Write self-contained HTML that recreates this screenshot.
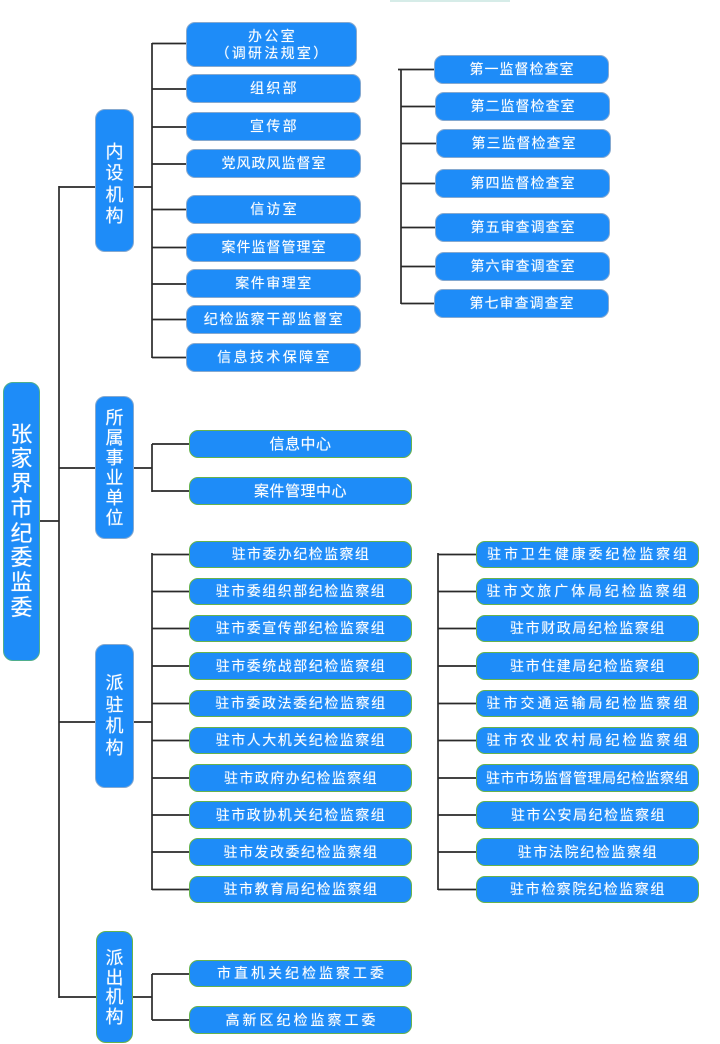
<!DOCTYPE html>
<html>
<head>
<meta charset="utf-8">
<style>
  html,body{margin:0;padding:0;background:#fff;}
  body{width:720px;height:1044px;position:relative;overflow:hidden;
    font-family:"Liberation Sans","Noto Sans CJK SC","WenQuanYi Zen Hei",sans-serif;}
  .b{position:absolute;box-sizing:border-box;background:#1e8cf8;color:#fff;
    border-radius:9px;display:flex;align-items:center;justify-content:center;
    font-size:14px;white-space:nowrap;line-height:17px;text-align:center;
    text-shadow:0 0 1px rgba(255,255,255,0.5);}
  .g{border:1.5px solid #66b24e;}
  .s{border:1.5px solid #86a9cf;}
  .v{flex-direction:column;font-size:18px;line-height:21.5px;border-radius:10px;}
  svg{position:absolute;left:0;top:0;}
</style>
</head>
<body>
<div style="position:absolute;left:390px;top:0;width:120px;height:2px;background:#d6ece8;"></div>

<svg width="720" height="1044">
  <g stroke="#2a2a2a" stroke-width="1.7" fill="none">
    <!-- main -->
    <line x1="59" y1="186" x2="59" y2="998"/>
    <line x1="40" y1="521" x2="59" y2="521"/>
    <line x1="59" y1="187" x2="95" y2="187"/>
    <line x1="59" y1="468" x2="95" y2="468"/>
    <line x1="59" y1="722" x2="95" y2="722"/>
    <line x1="59" y1="997" x2="96" y2="997"/>
    <!-- 内设 -->
    <line x1="134" y1="187" x2="152" y2="187"/>
    <line x1="152" y1="43" x2="152" y2="358"/>
    <line x1="152" y1="43.5" x2="186" y2="43.5"/>
    <line x1="152" y1="89" x2="186" y2="89"/>
    <line x1="152" y1="127" x2="186" y2="127"/>
    <line x1="152" y1="164" x2="186" y2="164"/>
    <line x1="152" y1="209.5" x2="186" y2="209.5"/>
    <line x1="152" y1="247.5" x2="186" y2="247.5"/>
    <line x1="152" y1="284" x2="186" y2="284"/>
    <line x1="152" y1="319.5" x2="186" y2="319.5"/>
    <line x1="152" y1="357.5" x2="186" y2="357.5"/>
    <!-- right top bracket -->
    <line x1="401" y1="69" x2="401" y2="304"/>
    <line x1="398" y1="69.5" x2="434" y2="69.5"/>
    <line x1="401" y1="106.5" x2="435" y2="106.5"/>
    <line x1="401" y1="143.5" x2="436" y2="143.5"/>
    <line x1="401" y1="183.5" x2="435" y2="183.5"/>
    <line x1="401" y1="227.5" x2="435" y2="227.5"/>
    <line x1="401" y1="266.5" x2="435" y2="266.5"/>
    <line x1="401" y1="303.5" x2="434" y2="303.5"/>
    <!-- 所属 -->
    <line x1="134" y1="468" x2="152" y2="468"/>
    <line x1="152" y1="444" x2="152" y2="492"/>
    <line x1="152" y1="444" x2="189" y2="444"/>
    <line x1="152" y1="491" x2="189" y2="491"/>
    <!-- 派驻 left -->
    <line x1="134" y1="722" x2="152" y2="722"/>
    <line x1="152" y1="553" x2="152" y2="890"/>
    <line x1="152" y1="554.5" x2="189" y2="554.5"/>
    <line x1="152" y1="591.5" x2="189" y2="591.5"/>
    <line x1="152" y1="628.5" x2="189" y2="628.5"/>
    <line x1="152" y1="666" x2="189" y2="666"/>
    <line x1="152" y1="703.5" x2="189" y2="703.5"/>
    <line x1="152" y1="740.5" x2="189" y2="740.5"/>
    <line x1="152" y1="778" x2="189" y2="778"/>
    <line x1="152" y1="815" x2="189" y2="815"/>
    <line x1="152" y1="852" x2="189" y2="852"/>
    <line x1="152" y1="889.5" x2="189" y2="889.5"/>
    <!-- 派驻 right -->
    <line x1="438" y1="553" x2="438" y2="890"/>
    <line x1="438" y1="554.5" x2="476" y2="554.5"/>
    <line x1="438" y1="591.5" x2="476" y2="591.5"/>
    <line x1="438" y1="628.5" x2="476" y2="628.5"/>
    <line x1="438" y1="666" x2="476" y2="666"/>
    <line x1="438" y1="703.5" x2="476" y2="703.5"/>
    <line x1="438" y1="740.5" x2="476" y2="740.5"/>
    <line x1="438" y1="778" x2="476" y2="778"/>
    <line x1="438" y1="815" x2="476" y2="815"/>
    <line x1="438" y1="852" x2="476" y2="852"/>
    <line x1="438" y1="889.5" x2="476" y2="889.5"/>
    <!-- 派出 -->
    <line x1="133" y1="997" x2="152" y2="997"/>
    <line x1="152" y1="974" x2="152" y2="1020"/>
    <line x1="152" y1="974" x2="189" y2="974"/>
    <line x1="152" y1="1020" x2="189" y2="1020"/>
  </g>
</svg>

<!-- main -->
<div class="b g v" style="left:3px;top:382px;width:37px;height:279px;font-size:22px;line-height:24.7px;border-color:#4fae8c;">张<br>家<br>界<br>市<br>纪<br>委<br>监<br>委</div>

<!-- categories -->
<div class="b s v" style="left:95px;top:109px;width:39px;height:143px;padding-top:8px;">内<br>设<br>机<br>构</div>
<div class="b s v" style="left:95px;top:396px;width:39px;height:143px;line-height:20px;">所<br>属<br>事<br>业<br>单<br>位</div>
<div class="b s v" style="left:95px;top:644px;width:39px;height:144px;padding-top:0px;">派<br>驻<br>机<br>构</div>
<div class="b g v" style="left:96px;top:931px;width:37px;height:112px;line-height:19.5px;padding-top:2px;">派<br>出<br>机<br>构</div>

<!-- 内设 items -->
<div class="b s" style="left:186px;top:22px;width:171px;height:45px;flex-direction:column;letter-spacing:2.3px;padding-left:2px;line-height:17px;"><span>办公室</span><span>（调研法规室）</span></div>
<div class="b s" style="left:186px;top:74px;width:175px;height:29px;letter-spacing:2.3px;padding-left:2px;">组织部</div>
<div class="b s" style="left:186px;top:112px;width:175px;height:29px;letter-spacing:2.3px;padding-left:2px;">宣传部</div>
<div class="b s" style="left:186px;top:149px;width:175px;height:29px;letter-spacing:1px;padding-left:1px;">党风政风监督室</div>
<div class="b s" style="left:186px;top:195px;width:175px;height:29px;letter-spacing:2.2px;padding-left:2px;">信访室</div>
<div class="b s" style="left:186px;top:233px;width:175px;height:29px;letter-spacing:1px;padding-left:1px;">案件监督管理室</div>
<div class="b s" style="left:186px;top:269px;width:175px;height:29px;letter-spacing:1.5px;padding-left:1px;">案件审理室</div>
<div class="b s" style="left:186px;top:305px;width:175px;height:29px;letter-spacing:1.6px;padding-left:1px;">纪检监察干部监督室</div>
<div class="b s" style="left:186px;top:343px;width:175px;height:29px;letter-spacing:2.4px;padding-left:2px;">信息技术保障室</div>

<!-- right top -->
<div class="b s" style="left:434px;top:55px;width:175px;height:29px;letter-spacing:1px;padding-left:1px;">第一监督检查室</div>
<div class="b s" style="left:435px;top:92px;width:175px;height:29px;letter-spacing:1px;padding-left:1px;">第二监督检查室</div>
<div class="b s" style="left:436px;top:129px;width:175px;height:29px;letter-spacing:1px;padding-left:1px;">第三监督检查室</div>
<div class="b s" style="left:435px;top:169px;width:175px;height:29px;letter-spacing:1px;padding-left:1px;">第四监督检查室</div>
<div class="b s" style="left:435px;top:213px;width:175px;height:29px;letter-spacing:1px;padding-left:1px;">第五审查调查室</div>
<div class="b s" style="left:435px;top:252px;width:175px;height:29px;letter-spacing:1px;padding-left:1px;">第六审查调查室</div>
<div class="b s" style="left:434px;top:289px;width:175px;height:29px;letter-spacing:1px;padding-left:1px;">第七审查调查室</div>

<!-- 所属 -->
<div class="b g" style="left:189px;top:430px;width:223px;height:28px;font-size:15px;letter-spacing:0.5px;">信息中心</div>
<div class="b g" style="left:189px;top:477px;width:223px;height:28px;font-size:15px;letter-spacing:0.5px;">案件管理中心</div>

<!-- 派驻 left -->
<div class="b g" style="left:189px;top:541px;width:223px;height:27px;letter-spacing:1.4px;padding-left:1px;">驻市委办纪检监察组</div>
<div class="b g" style="left:189px;top:578px;width:223px;height:27px;letter-spacing:1.5px;padding-left:1px;">驻市委组织部纪检监察组</div>
<div class="b g" style="left:189px;top:615px;width:223px;height:27px;letter-spacing:1.5px;padding-left:1px;">驻市委宣传部纪检监察组</div>
<div class="b g" style="left:189px;top:652px;width:223px;height:28px;letter-spacing:1.5px;padding-left:1px;">驻市委统战部纪检监察组</div>
<div class="b g" style="left:189px;top:690px;width:223px;height:27px;letter-spacing:1.6px;padding-left:1px;">驻市委政法委纪检监察组</div>
<div class="b g" style="left:189px;top:727px;width:223px;height:27px;letter-spacing:1.5px;padding-left:1px;">驻市人大机关纪检监察组</div>
<div class="b g" style="left:189px;top:764px;width:223px;height:28px;letter-spacing:1.4px;padding-left:1px;">驻市政府办纪检监察组</div>
<div class="b g" style="left:189px;top:801px;width:223px;height:28px;letter-spacing:1.5px;padding-left:1px;">驻市政协机关纪检监察组</div>
<div class="b g" style="left:189px;top:838px;width:223px;height:28px;letter-spacing:1.5px;padding-left:1px;">驻市发改委纪检监察组</div>
<div class="b g" style="left:189px;top:876px;width:223px;height:27px;letter-spacing:1.5px;padding-left:1px;">驻市教育局纪检监察组</div>

<!-- 派驻 right -->
<div class="b g" style="left:476px;top:541px;width:223px;height:27px;letter-spacing:2.9px;padding-left:2px;">驻市卫生健康委纪检监察组</div>
<div class="b g" style="left:476px;top:578px;width:223px;height:27px;letter-spacing:2.9px;padding-left:1px;">驻市文旅广体局纪检监察组</div>
<div class="b g" style="left:476px;top:615px;width:223px;height:27px;letter-spacing:1.6px;padding-left:1px;">驻市财政局纪检监察组</div>
<div class="b g" style="left:476px;top:652px;width:223px;height:28px;letter-spacing:1.6px;padding-left:1px;">驻市住建局纪检监察组</div>
<div class="b g" style="left:476px;top:690px;width:223px;height:27px;letter-spacing:3px;padding-left:2px;">驻市交通运输局纪检监察组</div>
<div class="b g" style="left:476px;top:727px;width:223px;height:27px;letter-spacing:3px;padding-left:2px;">驻市农业农村局纪检监察组</div>
<div class="b g" style="left:476px;top:764px;width:223px;height:28px;letter-spacing:0.5px;padding-left:0px;">驻市市场监督管理局纪检监察组</div>
<div class="b g" style="left:476px;top:801px;width:223px;height:28px;letter-spacing:1.5px;padding-left:2px;">驻市公安局纪检监察组</div>
<div class="b g" style="left:476px;top:838px;width:223px;height:28px;letter-spacing:1.6px;padding-left:1px;">驻市法院纪检监察组</div>
<div class="b g" style="left:476px;top:876px;width:223px;height:27px;letter-spacing:1.6px;padding-left:1px;">驻市检察院纪检监察组</div>

<!-- 派出 -->
<div class="b g" style="left:189px;top:960px;width:223px;height:27px;letter-spacing:3px;padding-left:3px;">市直机关纪检监察工委</div>
<div class="b g" style="left:189px;top:1006px;width:223px;height:28px;letter-spacing:3px;padding-left:3px;">高新区纪检监察工委</div>

</body>
</html>
